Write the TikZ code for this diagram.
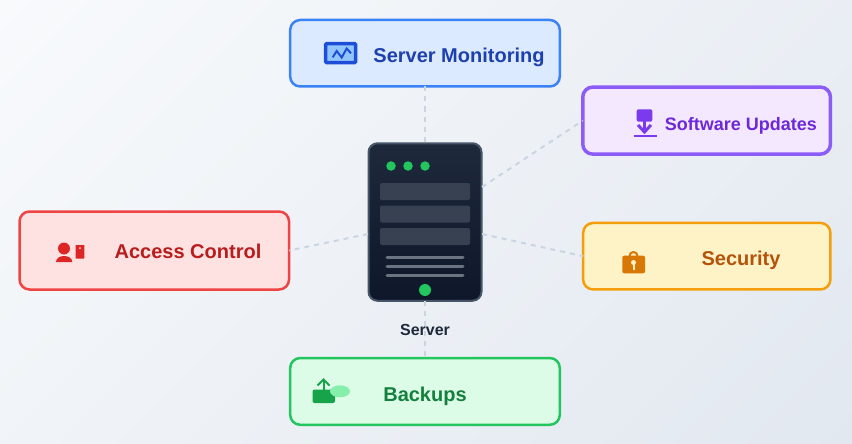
\documentclass[tikz,border=0pt]{standalone}
\usepackage{fontspec}
\setmainfont{Liberation Sans}
\usetikzlibrary{positioning,calc}
\definecolor{bgA}{HTML}{F8FAFC}
\definecolor{bgB}{HTML}{E2E8F0}
\definecolor{linkc}{HTML}{CBD5E1}
\definecolor{srvA}{HTML}{1E293B}
\definecolor{srvB}{HTML}{0F172A}
\definecolor{srvE}{HTML}{475569}
\definecolor{slotc}{HTML}{374151}
\definecolor{barc}{HTML}{6B7280}
\definecolor{ledc}{HTML}{22C55E}
\definecolor{monF}{HTML}{DBEAFE}\definecolor{monD}{HTML}{3B82F6}\definecolor{monT}{HTML}{1E40AF}\definecolor{monI}{HTML}{1D4ED8}\definecolor{monS}{HTML}{93C5FD}
\definecolor{updF}{HTML}{F3E8FF}\definecolor{updD}{HTML}{8B5CF6}\definecolor{updT}{HTML}{6D28D9}\definecolor{updI}{HTML}{7C3AED}
\definecolor{secF}{HTML}{FEF3C7}\definecolor{secD}{HTML}{F59E0B}\definecolor{secT}{HTML}{B45309}\definecolor{secI}{HTML}{D97706}
\definecolor{accF}{HTML}{FEE2E2}\definecolor{accD}{HTML}{EF4444}\definecolor{accT}{HTML}{B91C1C}\definecolor{accI}{HTML}{DC2626}
\definecolor{bakF}{HTML}{DCFCE7}\definecolor{bakD}{HTML}{22C55E}\definecolor{bakT}{HTML}{15803D}\definecolor{bakI}{HTML}{16A34A}\definecolor{bakS}{HTML}{86EFAC}
\tikzset{
    panel/.style={draw, line width=2.5pt, rounded corners=10pt, inner sep=0pt, outer sep=0pt},
    panellabel/.style={anchor=base, inner sep=0pt, font=\bfseries\fontsize{#1}{#1}\selectfont},
    link/.style={draw=linkc, line width=2pt, dash pattern=on 5pt off 5pt},
    slot/.style={fill=slotc, rounded corners=2pt},
    bar/.style={draw=barc, line width=3pt, line cap=round},
    led/.style={circle, fill=ledc, inner sep=0pt, outer sep=0pt},
}
\begin{document}
\begin{tikzpicture}[x=1pt, y=-1pt]
    \useasboundingbox (0,0) rectangle (852,444);
    \begin{scope}
        \clip (0,0) rectangle (852,444);
        \begin{scope}[transform canvas={rotate around={-45:(426,222)}}]
            \shade[left color=bgA, right color=bgB] (-32,-478) rectangle (884,922);
        \end{scope}
    \end{scope}

    \foreach \lname/\lpos/\lw/\lh/\lt in {mon/{425,53.25}/269.6/66.5/2.5, upd/{706.6,120.6}/247.7/67/3.5, sec/{706.8,256.2}/247.3/66.5/2.5, acc/{154.3,250.5}/269.5/78/2.5, bak/{425,391.4}/269.6/66.8/2.5} {
        \node[panel, line width=\lt pt, draw=\lname D, fill=\lname F, minimum width=\lw pt, minimum height=\lh pt] (\lname) at (\lpos) {};
    }

    \coordinate (srv-ne) at (482,187);
    \coordinate (srv-se) at (482,234);
    \coordinate (srv-w) at (368,234);
    \node[draw=srvE, line width=2pt, rounded corners=9pt, top color=srvA, bottom color=srvB, minimum width=113pt, minimum height=157.5pt, inner sep=0pt, outer sep=0pt] (srv) at (425,222) {};
    \draw[link] (mon) -- (srv);
    \draw[link] (srv-ne) -- (upd.west);
    \draw[link] (srv-se) -- (sec.west);
    \draw[link] (srv-w) -- (acc.east);
    \draw[link] (srv) -- (bak);

    \foreach \i in {391,408,425} {
        \node[led, minimum size=9.5pt] (led-\i) at (\i,166) {};
    }
    \foreach \i in {183,205.5,228} {
        \fill[slot] (380,\i) rectangle ++(90,17);
    }
    \foreach \i in {257.7,266.7,275.7} {
        \draw[bar] (387,\i) -- (463,\i);
    }
    \node[led, minimum size=12pt] (pwr) at (425,290) {};
    \node[panellabel=16, text=srvA] (srvlabel) at (425,335) {Server};

    \node[panellabel=20, text=monT] (monlabel) at (459,62.3) {Server Monitoring};
    \node[panellabel=18, text=updT] (updlabel) at (741,130) {Software Updates};
    \node[panellabel=20, text=secT] (seclabel) at (741,265) {Security};
    \node[panellabel=20, text=accT] (acclabel) at (188,258.3) {Access Control};
    \node[panellabel=20, text=bakT] (baklabel) at (425,401) {Backups};

    \draw[draw=monI, fill=monS, line width=3.5pt, rounded corners=1pt] (325.7,43.7) rectangle (355.6,62.6);
    \draw[monI, line width=2pt] (332.7,57.3) -- (336.7,51) -- (341.7,57.5) -- (346.7,48.5) -- (351,53.3);

    \fill[updI, rounded corners=2pt] (636.7,109.3) rectangle (652.3,121.7);
    \draw[updI, line width=3pt] (644.5,121) -- (644.5,132);
    \draw[updI, line width=3pt] (638,125) -- (644.5,132) -- (651,125);
    \draw[updI, line width=2pt] (633.5,136) -- (656.5,136);

    \draw[secI, line width=2pt] (629.5,256) arc (180:360:4);
    \fill[secI, rounded corners=2pt] (622.3,255.7) rectangle (645,273.3);
    \fill[secF] (633.5,262.5) circle (2.5pt);
    \fill[secF] (632.5,263) rectangle (634.5,270);

    \fill[accI] (64,248.5) circle (6pt);
    \fill[accI] (56,262) .. controls (56,258) and (60,256) .. (64,256) .. controls (68,256) and (72.3,258) .. (72.3,262) -- cycle;
    \fill[accI, rounded corners=0.5pt] (75.7,245) rectangle (84.3,258.5);
    \fill[accF] (80,248) circle (1pt);

    \fill[bakI, rounded corners=2pt] (312.5,389.5) rectangle (335,403);
    \draw[bakI, line width=2pt] (323.5,390) -- (323.5,380);
    \draw[bakI, line width=2pt] (317.5,385.5) -- (323.5,379.5) -- (329.5,385.5);
    \fill[bakS] (340,391.3) ellipse (10pt and 6pt);
\end{tikzpicture}
\end{document}
